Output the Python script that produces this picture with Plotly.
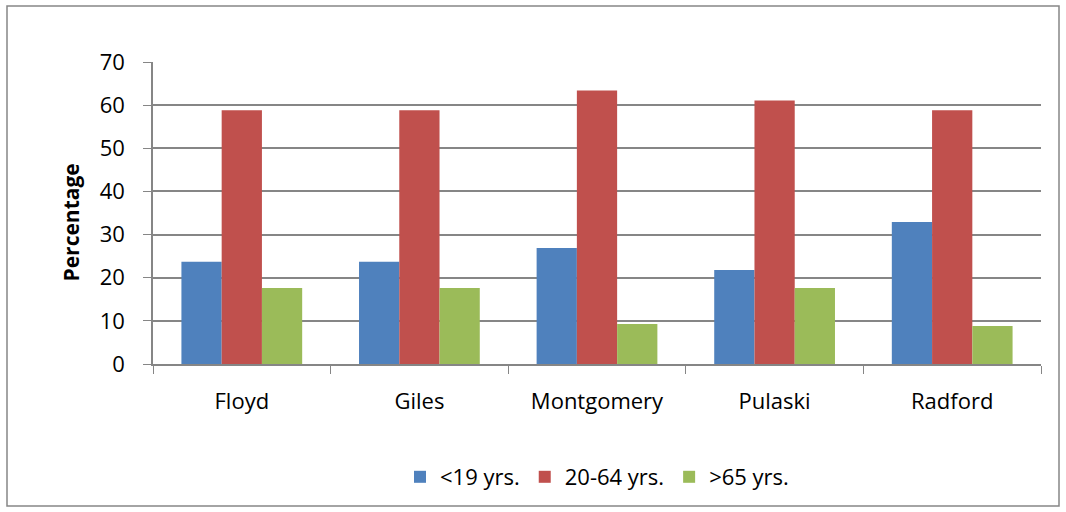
import plotly.graph_objects as go

categories = ["Floyd", "Giles", "Montgomery", "Pulaski", "Radford"]
under19 = [23.7, 23.7, 26.9, 21.8, 32.9]
age20_64 = [58.8, 58.8, 63.4, 61.1, 58.8]
over65 = [17.6, 17.6, 9.3, 17.6, 8.8]
series_names = ["<19 yrs.", "20-64 yrs.", ">65 yrs."]
colors = ["#4F81BD", "#C0504D", "#9BBB59"]
y_ticks = [0, 10, 20, 30, 40, 50, 60, 70]
y_title = "Percentage"

FONT = "Open Sans, Carlito, Calibri, sans-serif"
FS = 22

fig = go.Figure()
for name, vals, col in zip(series_names, [under19, age20_64, over65], colors):
    fig.add_trace(go.Bar(x=categories, y=vals, name=name,
                         marker=dict(color=col, line=dict(width=0))))

W, H = 1066, 512
L, R, T, B = 153, 25, 62, 148
pw, ph = W - L - R, H - T - B

def px_x(x):
    return (x - L) / pw

def px_y(y):
    return (H - B - y) / ph

fig.update_layout(
    width=W, height=H,
    margin=dict(l=L, r=R, t=T, b=B),
    paper_bgcolor="white", plot_bgcolor="white",
    barmode="group", bargap=0.32, bargroupgap=0,
    font=dict(family=FONT, size=FS, color="black"),
    legend=dict(orientation="h", x=0.5, xanchor="center",
                y=px_y(477), yanchor="middle",
                font=dict(family=FONT, size=FS), itemwidth=30,
                traceorder="normal"),
    xaxis=dict(showline=True, linecolor="#868686", linewidth=1.5,
               ticks="outside", tickcolor="#868686", ticklen=8,
               tickson="boundaries", showgrid=False,
               ticklabelstandoff=17,
               tickfont=dict(family=FONT, size=FS)),
    yaxis=dict(range=[0, 70], tickvals=y_ticks, showline=True,
               linecolor="#868686", linewidth=1.5, ticks="outside",
               tickcolor="#868686", ticklen=8, showgrid=True,
               gridcolor="#868686", gridwidth=1.5, zeroline=False,
               ticklabelstandoff=14,
               tickfont=dict(family=FONT, size=FS)),
    annotations=[dict(text="<b>" + y_title + "</b>", xref="paper", yref="paper",
                      x=px_x(70), y=px_y(222.5), xanchor="center", yanchor="middle",
                      textangle=-90, showarrow=False,
                      font=dict(family=FONT, size=FS - 1))],
    shapes=[dict(type="rect", xref="paper", yref="paper",
                 x0=px_x(7), x1=px_x(1059), y0=px_y(506), y1=px_y(6),
                 line=dict(color="#868686", width=1.5), fillcolor="rgba(0,0,0,0)",
                 layer="below")],
)

fig.write_html("out.html", config={"displayModeBar": False},
               post_script="document.body.style.margin='0px';")
